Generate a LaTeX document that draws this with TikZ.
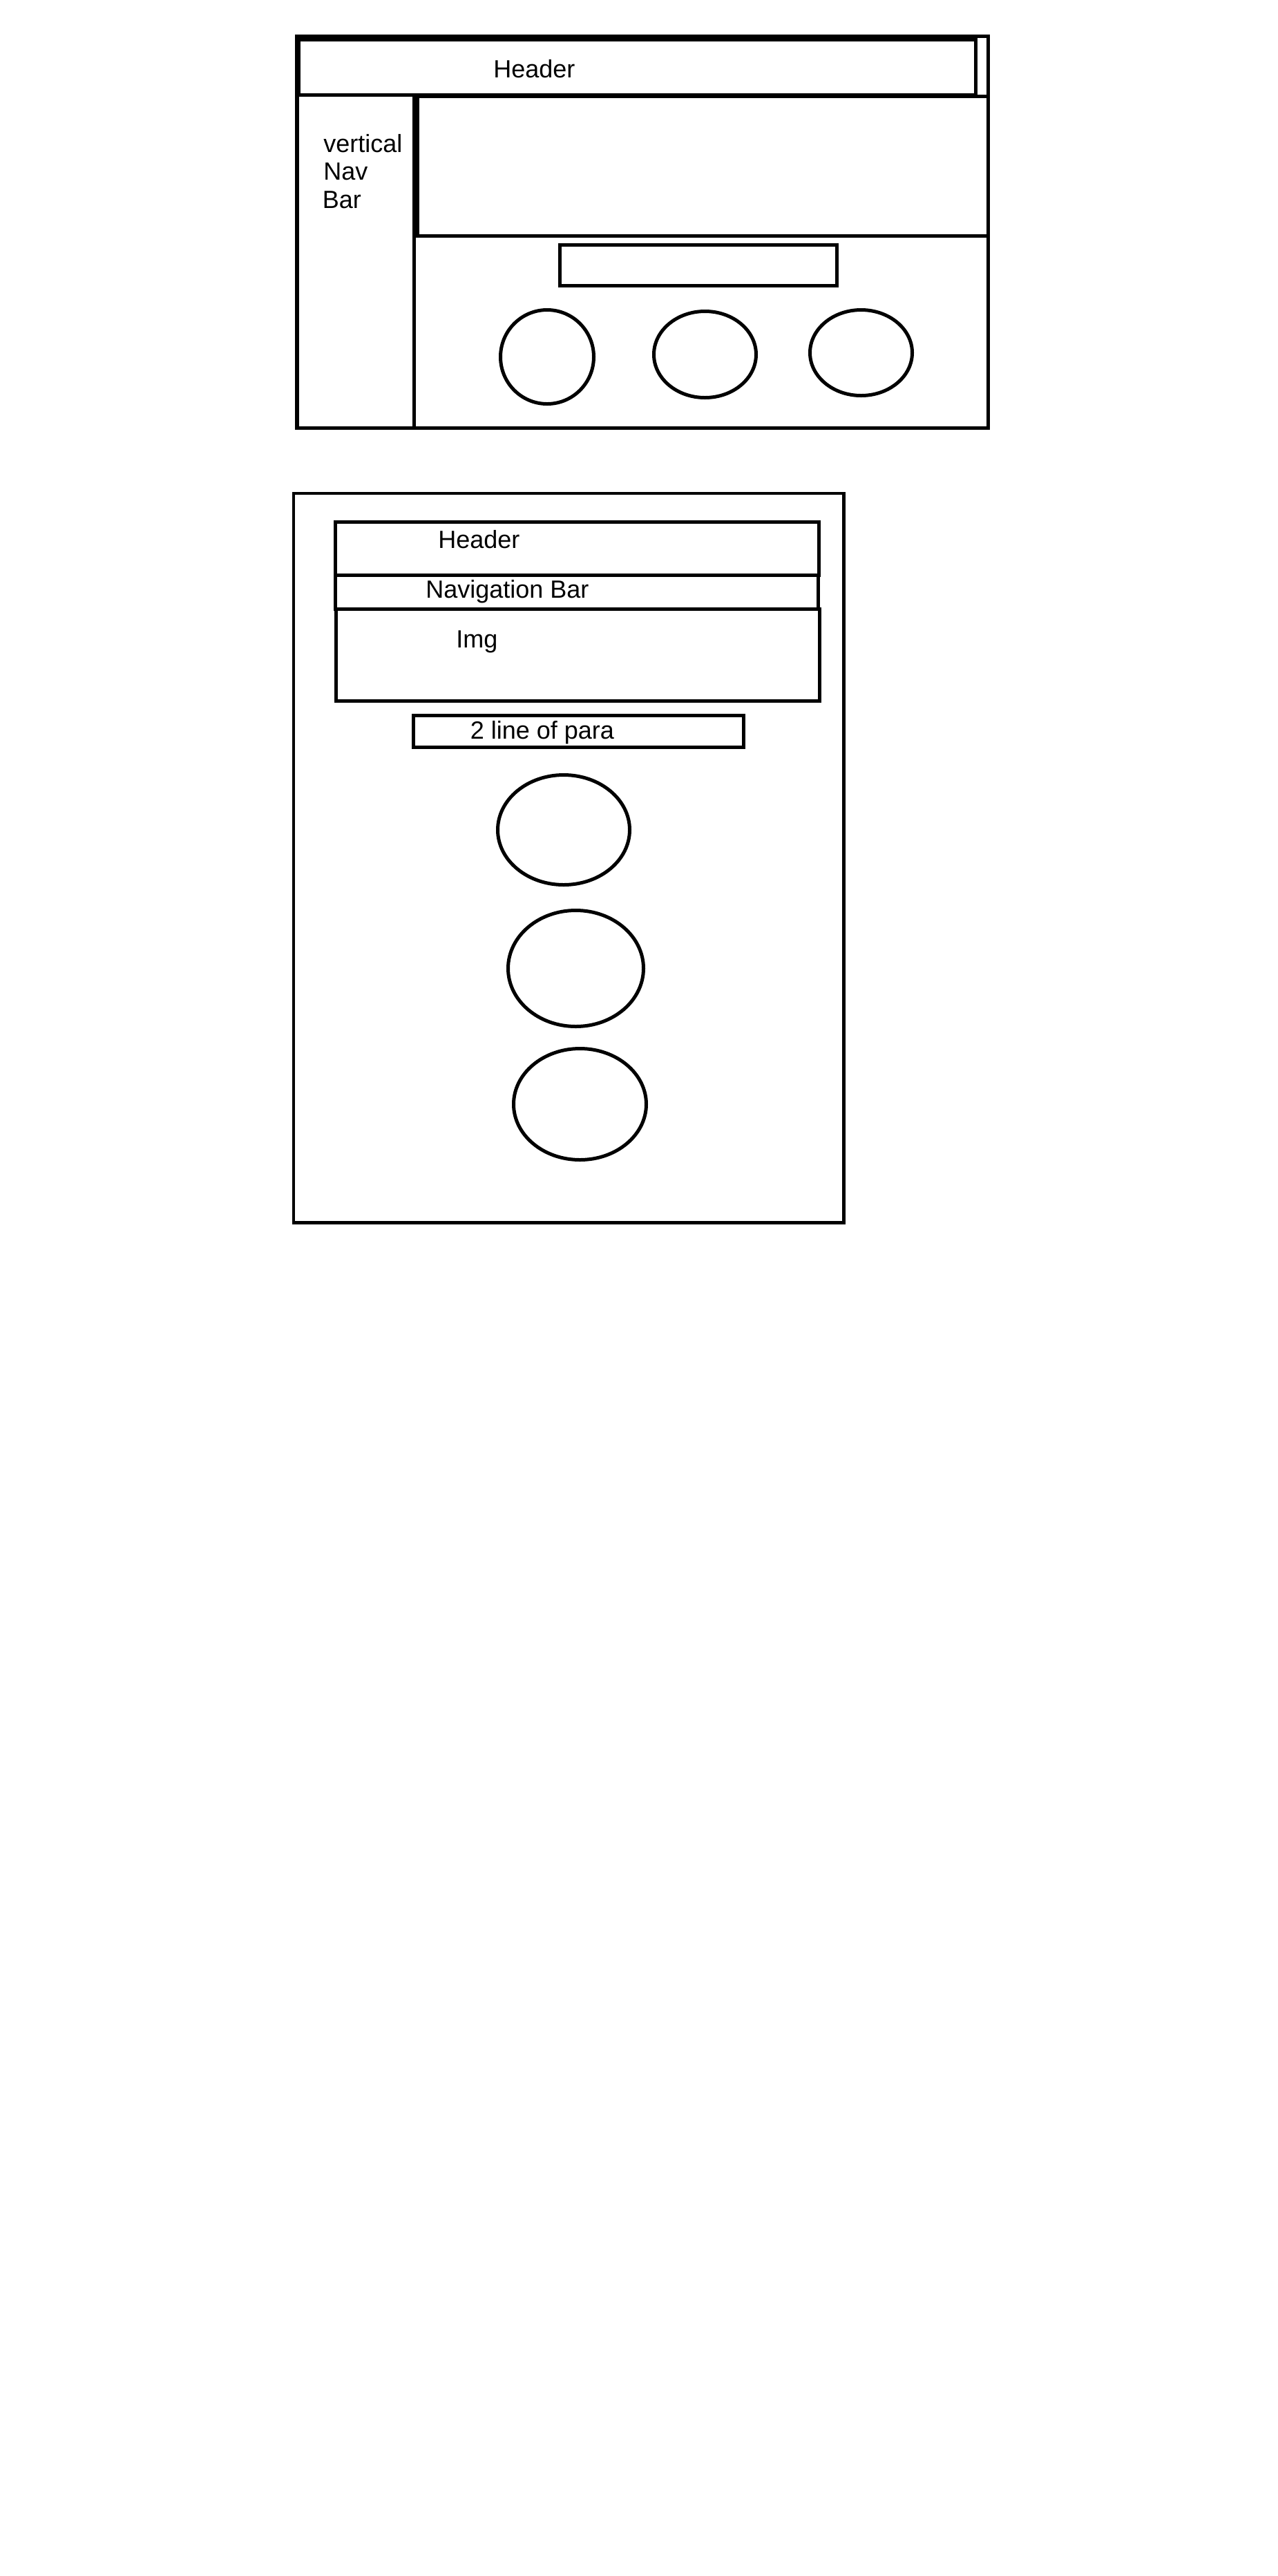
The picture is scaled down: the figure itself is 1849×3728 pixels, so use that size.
\documentclass[tikz,border=0pt]{standalone}
\usepackage{fontspec}
\setmainfont{Liberation Sans}
\begin{document}
\begin{tikzpicture}[x=0.5pt,y=-0.5pt,
  frame/.style={line width=2.75pt},
  boxline/.style={line width=2.5pt},
  thinbox/.style={line width=2.25pt},
  lbl/.style={inner sep=0pt,anchor=base west,font=\fontsize{18}{21.6}\selectfont}]
\useasboundingbox (0,0) rectangle (1849,3728);
% ---------- top wireframe ----------
\draw[frame] (430,52.5) rectangle (1430.5,619.5);
\draw[boxline] (432.5,57.5) rectangle (1412.5,137.5);
\draw[boxline] (604.5,139.5) rectangle (1430.5,341.5);
\coordinate (navtop) at (599.5,137.5);
\coordinate (navbot) at (599.5,619.5);
\draw[boxline] (navtop) -- (navbot);
\draw[boxline] (810.5,354.5) rectangle (1211.5,413.5);
\draw[boxline] (792,516.5) ellipse [x radius=33.75pt, y radius=34pt];
\draw[boxline] (1020.5,513) ellipse [x radius=37pt, y radius=31.25pt];
\draw[boxline] (1246.5,510.5) ellipse [x radius=37pt, y radius=31pt];
\node[lbl] (theader) at (714,112) {Header};
\node[lbl] (tv1) at (468,220) {vertical};
\node[lbl] (tv2) at (468,260) {Nav};
\node[lbl] (tv3) at (466.5,301) {Bar};
% ---------- bottom wireframe ----------
\draw[thinbox] (425,714) rectangle (1221.5,1769.5);
\draw[boxline] (485,755.5) rectangle (1185.5,832);
\draw[boxline] (485.5,832) rectangle (1184.5,881);
\draw[boxline] (486.5,881) rectangle (1186.5,1014.5);
\draw[boxline] (598,1035.5) rectangle (1076,1081.5);
\draw[boxline] (816,1201) ellipse [x radius=47.75pt, y radius=39.75pt];
\draw[boxline] (833.5,1401.5) ellipse [x radius=49pt, y radius=42pt];
\draw[boxline] (839.5,1598) ellipse [x radius=48pt, y radius=40.25pt];
\node[lbl] (bheader) at (634,793) {Header};
\node[lbl] (bnav) at (616,865) {Navigation Bar};
\node[lbl] (bimg) at (660,937) {Img};
\node[lbl] (bpara) at (680.5,1069) {2 line of para};
\end{tikzpicture}
\end{document}
